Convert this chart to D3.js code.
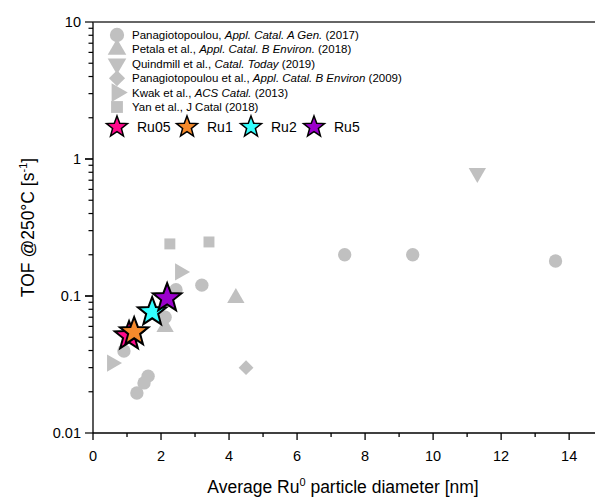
<!DOCTYPE html>
<html>
<head>
<meta charset="utf-8">
<script src="https://cdn.jsdelivr.net/npm/d3@7"></script>
<style>
  body { margin: 0; background: #fff; }
  svg { font-family: "Liberation Sans", Arial, sans-serif; }
</style>
</head>
<body>
<div id="chart"></div>
<script>
// literature data [diameter nm, TOF s-1]
var pan2017 = [[1.29, 0.0196], [1.5, 0.0232], [1.62, 0.026], [0.91, 0.0397], [2.12, 0.070],
               [2.44, 0.111], [3.2, 0.12], [7.4, 0.2], [9.4, 0.2], [13.6, 0.18]];
var petala2018 = [[2.12, 0.0594], [4.2, 0.0966]];
var quind2019 = [[11.3, 0.79]];
var pan2009 = [[4.5, 0.030]];
var kwak2013 = [[0.56, 0.0324], [2.56, 0.150]];
var yan2018 = [[2.26, 0.240], [3.41, 0.248]];

// this work
var ourNames = ["Ru05", "Ru1", "Ru2", "Ru5"];
var ourX = [1.06, 1.21, 1.74, 2.18];
var ourY = [0.051, 0.0546, 0.0764, 0.0966];
var ourColors = ["#ff0a8c", "#f58a2c", "#33ffff", "#9b00cc"];

var xTicks = [0, 2, 4, 6, 8, 10, 12, 14];
var yTicks = [0.01, 0.1, 1, 10];

var W = 595, H = 500;
var margin = {top: 22, right: 0, bottom: 67, left: 93};

var x = d3.scaleLinear().domain([0, 14.76]).range([margin.left, W - margin.right]);
var y = d3.scaleLog().domain([0.01, 10]).range([H - margin.bottom, margin.top]);

var svg = d3.select("#chart").append("svg")
    .attr("width", W).attr("height", H);

var gray = "#c0c0c0";

// star path
function star(R) {
    var r = R * 0.42, pts = [];
    for (var i = 0; i < 10; i++) {
        var a = Math.PI / 5 * i - Math.PI / 2;
        var rr = i % 2 ? r : R;
        pts.push([rr * Math.cos(a), rr * Math.sin(a)]);
    }
    return "M" + pts.join("L") + "Z";
}

var series = [
    {data: pan2017, type: d3.symbolCircle, size: 140, rot: 0,
     label: [["Panagiotopoulou, ", false], ["Appl. Catal. A Gen.", true], [" (2017)", false]]},
    {data: petala2018, type: d3.symbolTriangle, size: 130, rot: 0,
     label: [["Petala et al., ", false], ["Appl. Catal. B Environ.", true], [" (2018)", false]]},
    {data: quind2019, type: d3.symbolTriangle, size: 130, rot: 180,
     label: [["Quindmill et al., ", false], ["Catal. Today", true], [" (2019)", false]]},
    {data: pan2009, type: d3.symbolSquare, size: 110, rot: 45,
     label: [["Panagiotopoulou et al., ", false], ["Appl. Catal. B Environ", true], [" (2009)", false]]},
    {data: kwak2013, type: d3.symbolTriangle, size: 130, rot: 90,
     label: [["Kwak et al., ", false], ["ACS Catal.", true], [" (2013)", false]]},
    {data: yan2018, type: d3.symbolSquare, size: 120, rot: 0,
     label: [["Yan et al., J Catal (2018)", false]]}
];

// axes
var xAxis = svg.append("g").attr("transform", "translate(0," + (H - margin.bottom) + ")");
xAxis.append("line").attr("x1", margin.left).attr("x2", W).attr("y1", 0).attr("y2", 0)
    .attr("stroke", "#000").attr("stroke-width", 1.3);
d3.range(0, 15).forEach(function(v) {
    var major = v % 2 === 0;
    xAxis.append("line").attr("x1", x(v)).attr("x2", x(v)).attr("y1", 0).attr("y2", major ? 7 : 4)
        .attr("stroke", "#000").attr("stroke-width", 1.3);
});
xAxis.selectAll("text.tick").data(xTicks).enter().append("text")
    .attr("x", function(d) { return x(d); }).attr("y", 28)
    .attr("text-anchor", "middle").attr("font-size", 14.5).text(function(d) { return d; });

var yAxis = svg.append("g").attr("transform", "translate(" + margin.left + ",0)");
yAxis.append("line").attr("x1", 0).attr("x2", 0).attr("y1", margin.top).attr("y2", H - margin.bottom)
    .attr("stroke", "#000").attr("stroke-width", 1.3);
[0.01, 0.1, 1].forEach(function(dec) {
    for (var k = 1; k <= 10; k++) {
        var v = dec * k;
        yAxis.append("line").attr("x1", k === 1 || k === 10 ? -8 : -4.5).attr("x2", 0)
            .attr("y1", y(v)).attr("y2", y(v)).attr("stroke", "#000").attr("stroke-width", 1.2);
    }
});
yAxis.selectAll("text.tick").data(yTicks).enter().append("text")
    .attr("x", -12).attr("y", function(d) { return y(d) + 5; })
    .attr("text-anchor", "end").attr("font-size", 14.5).text(function(d) { return d; });

// top frame line
svg.append("line").attr("x1", margin.left).attr("x2", W).attr("y1", margin.top).attr("y2", margin.top)
    .attr("stroke", "#333").attr("stroke-width", 1.6);

// axis titles
var xt = svg.append("text").attr("x", (margin.left + W) / 2 - 1).attr("y", 493)
    .attr("text-anchor", "middle").attr("font-size", 17.5);
xt.append("tspan").text("Average Ru");
xt.append("tspan").attr("dy", -7).attr("font-size", 11).text("0");
xt.append("tspan").attr("dy", 7).text(" particle diameter [nm]");

var yt = svg.append("text").attr("transform", "translate(34," + ((margin.top + H - margin.bottom) / 2) + ") rotate(-90)")
    .attr("text-anchor", "middle").attr("font-size", 17.5);
yt.append("tspan").text("TOF @250°C [s");
yt.append("tspan").attr("dy", -7).attr("font-size", 11).text("-1");
yt.append("tspan").attr("dy", 7).text("]");

// gray literature points
series.forEach(function(s) {
    svg.append("g").selectAll("path").data(s.data).enter().append("path")
        .attr("d", d3.symbol().type(s.type).size(s.size))
        .attr("transform", function(d) {
            return "translate(" + x(d[0]) + "," + y(d[1]) + ") rotate(" + s.rot + ")";
        })
        .attr("fill", gray);
});

// this work stars
ourNames.forEach(function(n, i) {
    svg.append("path").attr("d", star(15))
        .attr("transform", "translate(" + x(ourX[i]) + "," + y(ourY[i]) + ")")
        .attr("fill", ourColors[i]).attr("stroke", "#000").attr("stroke-width", 2)
        .attr("stroke-linejoin", "miter");
});

// legend
var leg = svg.append("g");
series.forEach(function(s, i) {
    var ly = 35 + i * 14.4;
    leg.append("path").attr("d", d3.symbol().type(s.type).size(s.size + 20))
        .attr("transform", "translate(117," + ly + ") rotate(" + s.rot + ")")
        .attr("fill", gray);
    var t = leg.append("text").attr("x", 132).attr("y", ly + 4).attr("font-size", 11.5);
    s.label.forEach(function(p) {
        t.append("tspan").attr("font-style", p[1] ? "italic" : "normal").text(p[0]);
    });
});
var starX = [117, 187, 251, 314];
ourNames.forEach(function(n, i) {
    leg.append("path").attr("d", star(11))
        .attr("transform", "translate(" + starX[i] + ",127)")
        .attr("fill", ourColors[i]).attr("stroke", "#000").attr("stroke-width", 1.5);
    leg.append("text").attr("x", starX[i] + 20).attr("y", 132).attr("font-size", 14).text(n);
});
</script>
</body>
</html>
